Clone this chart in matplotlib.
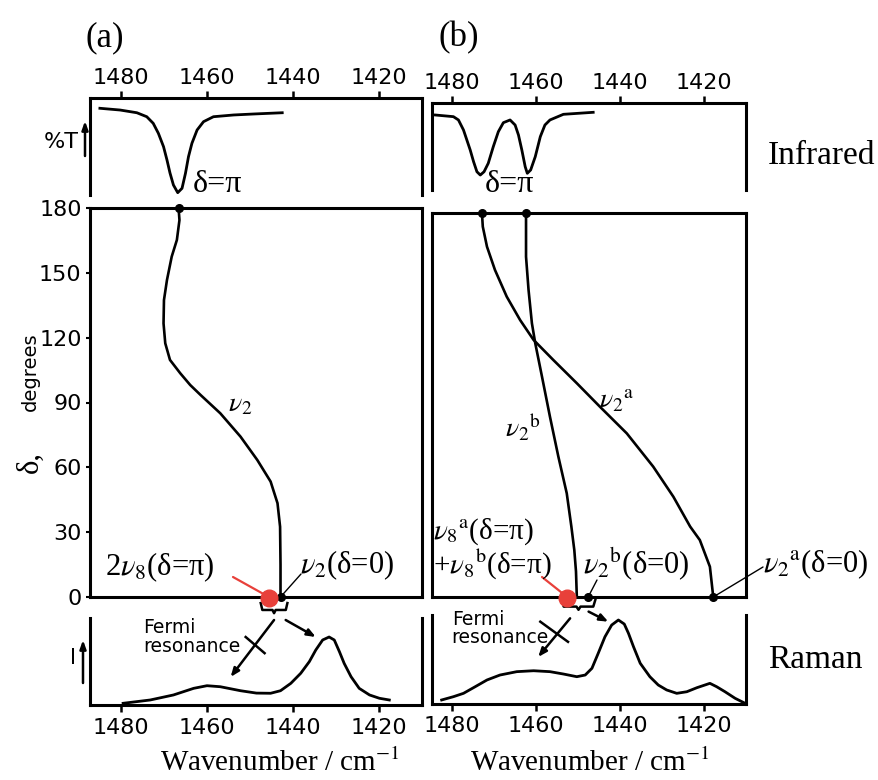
import matplotlib.pyplot as plt

plt.rcParams['mathtext.fontset'] = 'stix'
plt.rcParams['font.family'] = ['DejaVu Sans']
plt.rcParams['lines.solid_joinstyle'] = 'round'
SERIF = 'Liberation Serif'
RED = '#e8403a'

# ---- data ----
# (a) infrared transmission (relative)
ir_a_wn = [1484.9, 1480.2, 1476.3, 1474.0, 1472.5, 1471.3, 1470.1, 1469.3, 1468.6, 1467.8,
           1466.8, 1465.8, 1465.0, 1464.3, 1463.5, 1462.3, 1460.8, 1458.5, 1453.8, 1449.2, 1442.5]
ir_a_t = [0.894, 0.876, 0.848, 0.807, 0.739, 0.636, 0.498, 0.361, 0.227, 0.103,
          0.024, 0.069, 0.224, 0.395, 0.533, 0.670, 0.756, 0.807, 0.825, 0.835, 0.848]
# (b) infrared
ir_b_wn = [1484.0, 1479.7, 1478.5, 1477.3, 1476.5, 1475.7, 1474.9, 1474.1, 1473.3, 1472.4,
           1471.4, 1470.2, 1469.0, 1467.8, 1466.2, 1465.0, 1464.2, 1463.4, 1462.6, 1462.1,
           1461.3, 1460.2, 1459.0, 1457.9, 1456.7, 1453.5, 1446.4]
ir_b_t = [0.862, 0.843, 0.805, 0.690, 0.575, 0.460, 0.326, 0.210, 0.172, 0.210,
          0.307, 0.498, 0.670, 0.774, 0.805, 0.747, 0.632, 0.460, 0.268, 0.192,
          0.230, 0.383, 0.613, 0.747, 0.805, 0.870, 0.893]

# (a) phase difference delta vs wavenumber, nu2
nu2_wn = [1466.6, 1466.4, 1467.0, 1468.2, 1469.3, 1470.0, 1470.1, 1469.7, 1468.6, 1467.4,
          1466.2, 1463.9, 1461.5, 1456.9, 1452.2, 1448.3, 1445.2, 1443.6, 1443.0, 1442.9, 1442.9]
nu2_deg = [180, 174.4, 165.2, 157.5, 146.7, 137.4, 126.6, 117.4, 109.7, 106.6,
           103.5, 98.1, 93.5, 85.0, 74.2, 63.4, 53.4, 43.4, 32.5, 15, 0]
# (b) nu2^a and nu2^b
nu2a_wn = [1472.9, 1472.7, 1471.7, 1469.8, 1467.0, 1463.8, 1460.6, 1455.9, 1450.3,
           1444.8, 1438.4, 1432.1, 1427.3, 1423.3, 1421.0, 1418.6, 1417.8]
nu2a_deg = [180, 173.6, 164.2, 153.3, 140.8, 129.8, 120.5, 111.1, 100.2,
            89.2, 76.7, 61.1, 47.0, 33.0, 26.7, 14.2, 0]
nu2b_wn = [1462.4, 1462.4, 1461.8, 1461.0, 1460.2, 1458.6, 1456.7, 1454.7, 1452.7,
           1451.6, 1450.9, 1450.5, 1450.3]
nu2b_deg = [180, 159.5, 143.9, 128.3, 118.9, 103.3, 84.5, 65.8, 48.6,
            33.0, 22.0, 12.0, 0]

# (a) Raman intensity (relative)
ra_a_wn = [1479.5, 1473.2, 1467.8, 1463.1, 1460.0, 1456.9, 1452.2, 1448.5, 1445.2, 1442.9,
           1440.5, 1438.2, 1436.2, 1434.7, 1433.1, 1431.6, 1430.4, 1429.2, 1428.1, 1426.5,
           1424.6, 1422.2, 1419.9, 1417.6]
ra_a_i = [0.020, 0.059, 0.118, 0.196, 0.227, 0.215, 0.168, 0.140, 0.138, 0.168,
          0.255, 0.373, 0.510, 0.647, 0.765, 0.800, 0.765, 0.627, 0.490, 0.333,
          0.196, 0.118, 0.079, 0.059]
# (b) Raman
ra_b_wn = [1482.5, 1479.7, 1477.3, 1474.5, 1471.7, 1468.6, 1464.6, 1460.6, 1456.7, 1453.5,
           1450.3, 1448.3, 1446.7, 1445.2, 1443.6, 1442.0, 1440.4, 1439.0, 1438.0, 1436.8,
           1435.2, 1432.9, 1430.9, 1428.9, 1426.5, 1424.1, 1421.7, 1418.6, 1417.0, 1415.0,
           1412.6, 1410.2]
ra_b_i = [0.048, 0.087, 0.127, 0.206, 0.286, 0.345, 0.385, 0.396, 0.385, 0.357,
          0.325, 0.345, 0.425, 0.604, 0.800, 0.940, 1.000, 0.952, 0.842, 0.682,
          0.485, 0.325, 0.226, 0.167, 0.127, 0.146, 0.194, 0.246, 0.206, 0.146,
          0.068, 0.008]

# marked points on the delta axis
pi_a_wn = [1466.6]
pi_b_wn = [1472.9, 1462.4]
zero_a_wn = [1442.9]
zero_b_wn = [1447.6, 1417.8]
fermi_a_wn = 1445.6
fermi_b_wn = 1452.6

wn_ticks = [1480, 1460, 1440, 1420]
deg_ticks = [0, 30, 60, 90, 120, 150, 180]

W, H = 879, 780
fig = plt.figure(figsize=(W / 100, H / 100), dpi=100)


def box(x0, y0, x1, y1):
    return [x0 / W, 1 - y1 / H, (x1 - x0) / W, (y1 - y0) / H]


def px(x, y):
    return (x / W, 1 - y / H)


def frame(ax, xlim, kind):
    ax.set_xlim(*xlim)
    for s in ax.spines.values():
        s.set_linewidth(2.2)
    ax.set_yticks([])
    if kind == 'ir':
        ax.spines['bottom'].set_visible(False)
        ax.xaxis.tick_top()
        ax.set_xticks(wn_ticks)
        ax.tick_params(axis='x', top=True, bottom=False, labeltop=True, labelbottom=False,
                       direction='out', length=5, width=1.8, pad=2, labelsize=16)
    elif kind == 'raman':
        ax.spines['top'].set_visible(False)
        ax.set_xticks(wn_ticks)
        ax.tick_params(axis='x', direction='out', length=5, width=1.8, pad=4, labelsize=16)
    else:
        ax.set_xticks([])
        ax.set_ylim(0, 180)


ir_a = fig.add_axes(box(90, 98, 422, 195))
mid_a = fig.add_axes(box(90, 208, 422, 597))
ram_a = fig.add_axes(box(90, 618, 422, 705))
ir_b = fig.add_axes(box(432, 103, 746, 190))
mid_b = fig.add_axes(box(432, 213, 746, 597))
ram_b = fig.add_axes(box(432, 615, 746, 704))

xa = (1487.2, 1410.0)
xb = (1484.8, 1410.0)
frame(ir_a, xa, 'ir')
frame(mid_a, xa, 'mid')
frame(ram_a, xa, 'raman')
frame(ir_b, xb, 'ir')
frame(mid_b, xb, 'mid')
frame(ram_b, xb, 'raman')
ir_a.set_ylim(0, 1)
ir_b.set_ylim(0, 1)
ram_a.set_ylim(0, 87 / 85)
ram_b.set_ylim(0, 89 / 84)

mid_a.set_yticks(deg_ticks)
mid_a.tick_params(axis='y', direction='out', length=3, width=1.5, pad=3, labelsize=16)

# curves
ir_a.plot(ir_a_wn, ir_a_t, color='black', lw=2.0)
ir_b.plot(ir_b_wn, ir_b_t, color='black', lw=2.0)
mid_a.plot(nu2_wn, nu2_deg, color='black', lw=1.9)
mid_b.plot(nu2a_wn, nu2a_deg, color='black', lw=1.9)
mid_b.plot(nu2b_wn, nu2b_deg, color='black', lw=1.9)
ram_a.plot(ra_a_wn, ra_a_i, color='black', lw=2.0)
ram_b.plot(ra_b_wn, ra_b_i, color='black', lw=2.0)

# dots
for ax, pis, zeros, red in [(mid_a, pi_a_wn, zero_a_wn, fermi_a_wn),
                            (mid_b, pi_b_wn, zero_b_wn, fermi_b_wn)]:
    ax.plot(pis, [180] * len(pis), 'o', color='black', ms=5.5, clip_on=False, zorder=5)
    ax.plot(zeros, [0] * len(zeros), 'o', color='black', ms=5.5, clip_on=False, zorder=5)
    ax.plot([red], [-0.5], 'o', color=RED, ms=12, clip_on=False, zorder=6)


def brace(ax, x0, x1, ytop, ybot):
    xm = (x0 + x1) / 2
    d = (x0 - x1) * 0.06
    ax.plot([x0, x0 - d, xm + d, xm, xm - d, x1 + d, x1],
            [ytop, ybot + 1.5, ybot + 1.5, ybot, ybot + 1.5, ybot + 1.5, ytop],
            color='black', lw=1.8, clip_on=False)


brace(mid_a, fermi_a_wn + 1.9, zero_a_wn[0] - 1.6, -2.8, -7.5)
brace(mid_b, fermi_b_wn + 1.3, zero_b_wn[0] - 1.7, -1.4, -6.0)

# leader lines
line = dict(arrowstyle='-', lw=1.0, shrinkA=0, shrinkB=0)
mid_a.annotate('', xy=(fermi_a_wn, 0), xytext=px(233, 577), textcoords='figure fraction',
               arrowprops=dict(line, color=RED, lw=1.6))
mid_a.annotate('', xy=(zero_a_wn[0], 0), xytext=px(301, 574), textcoords='figure fraction',
               arrowprops=dict(line, color='black'))
mid_b.annotate('', xy=(fermi_b_wn, 0), xytext=px(542, 577), textcoords='figure fraction',
               arrowprops=dict(line, color=RED, lw=1.6))
mid_b.annotate('', xy=(zero_b_wn[0], 0), xytext=px(597, 580), textcoords='figure fraction',
               arrowprops=dict(line, color='black'))
mid_b.annotate('', xy=(zero_b_wn[1], 0), xytext=px(763, 567), textcoords='figure fraction',
               arrowprops=dict(line, color='black'))

# Fermi resonance arrows
head = dict(arrowstyle='-|>,head_length=0.5,head_width=0.2', lw=1.8, color='black',
            shrinkA=0, shrinkB=0)
ram_a.annotate('', xy=(1454.5, 0.33), xytext=(1444.4, 1.0), arrowprops=head, annotation_clip=False)
ram_a.annotate('', xy=(1434.7, 0.80), xytext=(1441.7, 1.0), arrowprops=head, annotation_clip=False)
ram_a.plot([1451.0, 1446.6], [0.80, 0.61], color='black', lw=1.8)
ram_b.annotate('', xy=(1459.5, 0.56), xytext=(1451.9, 1.02), arrowprops=head, annotation_clip=False)
ram_b.annotate('', xy=(1442.8, 0.98), xytext=(1447.5, 1.10), arrowprops=head, annotation_clip=False)
ram_b.plot([1459.0, 1452.4], [0.98, 0.74], color='black', lw=1.8)
ram_a.text(1474.9, 1.02, 'Fermi\nresonance', fontsize=13.5, va='top', ha='left', linespacing=0.95)
ram_b.text(1480.1, 1.12, 'Fermi\nresonance', fontsize=13.5, va='top', ha='left', linespacing=0.95)

# text labels
serif = dict(family=SERIF)
fig.text(*px(105, 38), '(a)', fontsize=25, ha='center', va='center', **serif)
fig.text(*px(459, 38), '(b)', fontsize=25, ha='center', va='center', **serif)
fig.text(*px(768, 156), 'Infrared', fontsize=24, ha='left', va='center', **serif)
fig.text(*px(768, 660), 'Raman', fontsize=24, ha='left', va='center', **serif)
fig.text(*px(280, 763), 'Wavenumber / cm$^{-1}$', fontsize=21, ha='center', va='center', **serif)
fig.text(*px(590, 763), 'Wavenumber / cm$^{-1}$', fontsize=21, ha='center', va='center', **serif)
fig.text(*px(193, 184), 'δ=π', fontsize=23, ha='left', va='center', **serif)
fig.text(*px(485, 184), 'δ=π', fontsize=23, ha='left', va='center', **serif)

fig.text(*px(240, 403), r'$\nu_2$', fontsize=20, ha='center', va='center')
fig.text(*px(523, 428), r'$\nu_2{}^{\rm b}$', fontsize=20, ha='center', va='center')
fig.text(*px(617, 400), r'$\nu_2{}^{\rm a}$', fontsize=20, ha='center', va='center')

fig.text(*px(105, 567), r'2$\nu_8$(δ=π)', fontsize=22, ha='left', va='center', **serif)
fig.text(*px(300, 565), r'$\nu_2$(δ=0)', fontsize=22, ha='left', va='center', **serif)
fig.text(*px(433, 532), r'$\nu_8{}^{\rm a}$(δ=π)', fontsize=21, ha='left', va='center', **serif)
fig.text(*px(433, 565), r'+$\nu_8{}^{\rm b}$(δ=π)', fontsize=21, ha='left', va='center', **serif)
fig.text(*px(583, 564), r'$\nu_2{}^{\rm b}$(δ=0)', fontsize=22, ha='left', va='center', **serif)
fig.text(*px(763, 564), r'$\nu_2{}^{\rm a}$(δ=0)', fontsize=22, ha='left', va='center', **serif)

# axis descriptions on the left
fig.text(*px(30, 462), 'δ,', fontsize=22, rotation=90, ha='center', va='center', **serif)
fig.text(*px(30, 372), 'degrees', fontsize=14, rotation=90, ha='center', va='center')
fig.text(*px(79, 142), '%T', fontsize=16, ha='right', va='center')
fig.text(*px(73, 658), 'I', fontsize=15, ha='center', va='center')
small_up = dict(arrowstyle='-|>,head_length=0.5,head_width=0.18', lw=1.8, color='black',
                shrinkA=0, shrinkB=0)
ir_a.annotate('', xy=px(85, 121), xytext=px(85, 156), xycoords='figure fraction',
              textcoords='figure fraction', arrowprops=small_up)
ram_a.annotate('', xy=px(83, 640), xytext=px(83, 683), xycoords='figure fraction',
               textcoords='figure fraction', arrowprops=small_up)

fig.savefig('out.png', dpi=100)
